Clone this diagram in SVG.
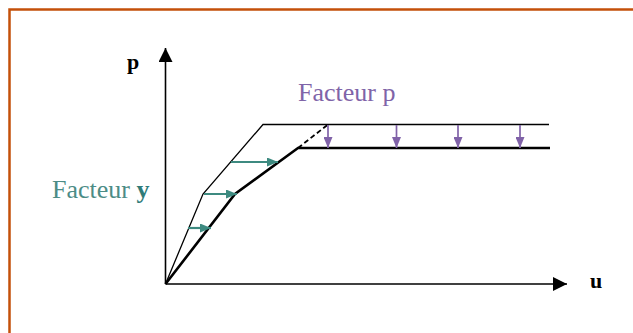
<svg xmlns="http://www.w3.org/2000/svg" width="633" height="333" viewBox="0 0 633 333">
  <style>
    .frame { fill: none; stroke: #c4500a; stroke-width: 2.5; }
    .axis { fill: none; stroke: #000; stroke-width: 1.6; }
    .thin { fill: none; stroke: #000; stroke-width: 1.3; stroke-linejoin: miter; }
    .thick { fill: none; stroke: #000; stroke-width: 2.6; stroke-linejoin: miter; }
    .dash { fill: none; stroke: #000; stroke-width: 1.8; stroke-dasharray: 5 3; }
    .teal { fill: none; stroke: #3d8a80; stroke-width: 2.2; }
    .purple { fill: none; stroke: #8062a8; stroke-width: 1.7; }
    .lbl { font-family: "Liberation Serif", "Times New Roman", serif; font-size: 26px; }
    .axl { font-family: "Liberation Serif", "Times New Roman", serif; font-size: 22px; font-weight: bold; fill: #000; }
  </style>
  <defs>
    <marker id="ah-black" markerUnits="userSpaceOnUse" markerWidth="14" markerHeight="14" viewBox="0 0 12 12" refX="12" refY="6" orient="auto">
      <path d="M0,0 L12,6 L0,12 Z" fill="#000"/>
    </marker>
    <marker id="ah-teal" markerUnits="userSpaceOnUse" markerWidth="11" markerHeight="9" viewBox="0 0 11 9" refX="11" refY="4.5" orient="auto">
      <path d="M0,0 L11,4.5 L0,9 Z" fill="#3d8a80"/>
    </marker>
    <marker id="ah-purple" markerUnits="userSpaceOnUse" markerWidth="11" markerHeight="9" viewBox="0 0 11 9" refX="11" refY="4.5" orient="auto">
      <path d="M0,0 L11,4.5 L0,9 Z" fill="#8062a8"/>
    </marker>
  </defs>

  <rect x="0" y="0" width="633" height="333" fill="#fff"/>
  <g id="frame">
    <polyline class="frame" points="633,9.5 9.5,9.5 9.5,333"/>
  </g>

  <g id="axes">
    <line class="axis" x1="165.5" y1="284" x2="165.5" y2="48" marker-end="url(#ah-black)"/>
    <line class="axis" x1="165.5" y1="284" x2="567" y2="284" marker-end="url(#ah-black)"/>
    <text class="axl" x="127" y="69">p</text>
    <text class="axl" x="590" y="288">u</text>
  </g>

  <g id="curves">
    <polyline class="thin" points="165.5,284 203,194 263,124.5 549,124.5"/>
    <polyline class="thick" points="165.5,284 235,194 298,148 550,148"/>
    <line class="dash" x1="298" y1="148" x2="328" y2="124.5"/>
  </g>

  <g id="connectors">
    <line class="teal" x1="188" y1="228" x2="211" y2="228" marker-end="url(#ah-teal)"/>
    <line class="teal" x1="204" y1="194" x2="237" y2="194" marker-end="url(#ah-teal)"/>
    <line class="teal" x1="231" y1="162" x2="278" y2="162" marker-end="url(#ah-teal)"/>
    <line class="purple" x1="328" y1="125" x2="328" y2="148" marker-end="url(#ah-purple)"/>
    <line class="purple" x1="396.5" y1="125" x2="396.5" y2="148" marker-end="url(#ah-purple)"/>
    <line class="purple" x1="458" y1="125" x2="458" y2="148" marker-end="url(#ah-purple)"/>
    <line class="purple" x1="520" y1="125" x2="520" y2="148" marker-end="url(#ah-purple)"/>
  </g>

  <g id="labels">
    <text class="lbl" x="298" y="101" fill="#7f64a8">Facteur p</text>
    <text class="lbl" x="52" y="198" fill="#4c8c86">Facteur <tspan font-weight="bold" fill="#2f7b78">y</tspan></text>
  </g>
</svg>
